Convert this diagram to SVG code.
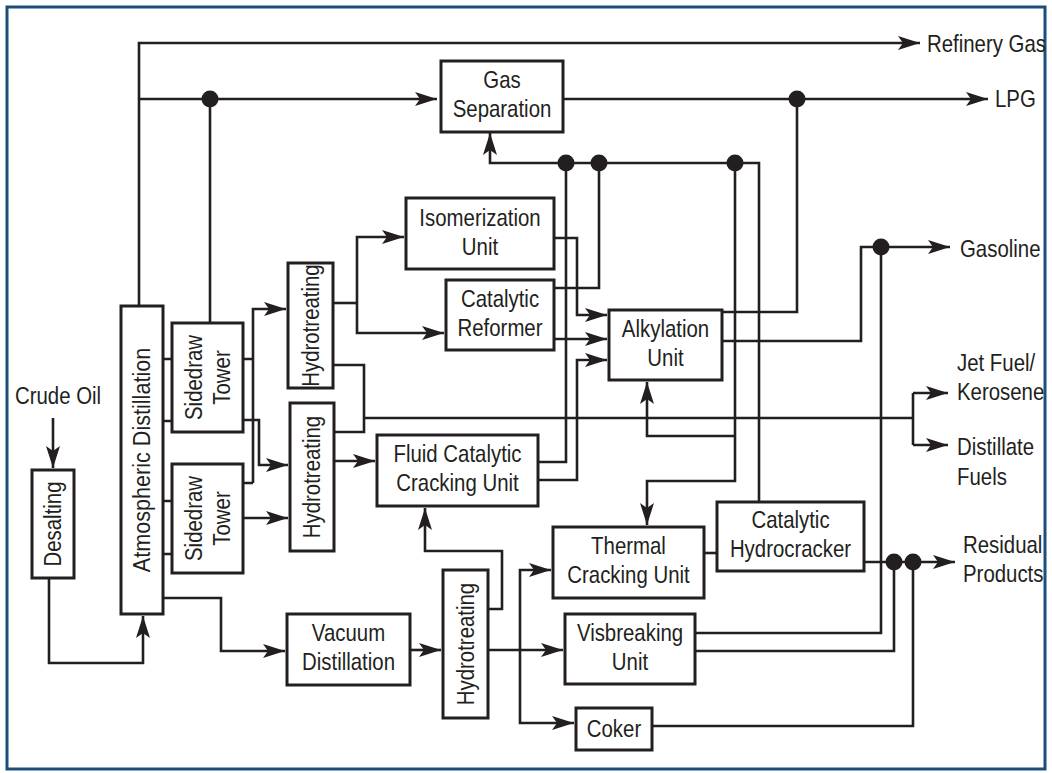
<svg xmlns="http://www.w3.org/2000/svg" width="1052" height="773" viewBox="0 0 1052 773">
<style>
.box{fill:#fff;stroke:#231f20;stroke-width:3}
.ln{fill:none;stroke:#231f20;stroke-width:2.6;stroke-linejoin:miter}
.ar{marker-end:url(#ah)}
.t{font-family:"Liberation Sans",Arial,sans-serif;font-size:24px;fill:#231f20}
.c{text-anchor:middle}
.dot{fill:#231f20}
</style>
<defs>
<marker id="ah" markerUnits="userSpaceOnUse" markerWidth="26" markerHeight="16" viewBox="0 -8 24 16" refX="22" refY="0" orient="auto">
<path d="M0,-7 L22,0 L0,7 L5,0 Z" fill="#231f20"/>
</marker>
</defs>
<rect x="0" y="0" width="1052" height="773" fill="#fff"/>
<rect x="7" y="7" width="1038" height="762" fill="none" stroke="#1b4f7a" stroke-width="3"/>

<g id="connectors">
<path class="ln ar" d="M139,306 V43 H920"/>
<path class="ln ar" d="M139,99 H437"/>
<path class="ln" d="M210,323 V99"/>
<path class="ln ar" d="M563,99 H988"/>
<path class="ln" d="M722,312 H797 V99"/>
<path class="ln ar" d="M759,502 V163 H490 V133"/>
<path class="ln" d="M538,462 H566 V163"/>
<path class="ln" d="M554,288 H599 V163"/>
<path class="ln ar" d="M554,238 H577 V315 H607"/>
<path class="ln ar" d="M554,339 H607"/>
<path class="ln ar" d="M538,480 H577 V360 H607"/>
<path class="ln ar" d="M735,163 V481 H647 V525"/>
<path class="ln ar" d="M735,436 H647 V382"/>
<path class="ln ar" d="M722,341 H861 V247 H950"/>
<path class="ln" d="M695,633 H881 V247"/>
<path class="ln" d="M695,651 H894 V562"/>
<path class="ln" d="M652,726 H913 V562"/>
<path class="ln ar" d="M864,562 H955"/>
<path class="ln" d="M704,553 H717"/>
<path class="ln ar" d="M488,650 H563"/>
<path class="ln ar" d="M520,650 V570 H551"/>
<path class="ln ar" d="M520,650 V723 H574"/>
<path class="ln ar" d="M488,609 H502 V551 H425 V508"/>
<path class="ln ar" d="M410,650 H441"/>
<path class="ln ar" d="M163,598 H221 V651 H285"/>
<path class="ln ar" d="M49,578 V663 H143 V616"/>
<path class="ln ar" d="M53,418 V468"/>
<path class="ln" d="M163,359 H172 M163,421 H172 M163,501 H172 M163,554 H172"/>
<path class="ln" d="M243,359 H253 M243,483 H253"/>
<path class="ln ar" d="M253,483 V309 H286"/>
<path class="ln ar" d="M243,420 H259 V465 H288"/>
<path class="ln ar" d="M243,518 H288"/>
<path class="ln" d="M333,303 H357"/>
<path class="ln ar" d="M357,303 V237 H404"/>
<path class="ln ar" d="M357,303 V333 H444"/>
<path class="ln" d="M333,365 H364 V432 H334 M364,418 H913 M913,393 V445"/>
<path class="ln ar" d="M913,393 H948"/>
<path class="ln ar" d="M913,445 H948"/>
<path class="ln ar" d="M334,461 H375"/>
<circle class="dot" cx="210" cy="99" r="8.5"/>
<circle class="dot" cx="797" cy="99" r="8.5"/>
<circle class="dot" cx="566" cy="163" r="8.5"/>
<circle class="dot" cx="599" cy="163" r="8.5"/>
<circle class="dot" cx="735" cy="163" r="8.5"/>
<circle class="dot" cx="881" cy="247" r="8.5"/>
<circle class="dot" cx="894" cy="562" r="8.5"/>
<circle class="dot" cx="913" cy="562" r="8.5"/>
</g>

<g id="crude-oil"><text class="t c" transform="translate(58,0) scale(0.85,1)" x="0" y="404">Crude Oil</text></g>
<g id="desalting"><rect class="box" x="32" y="470" width="42" height="108"/><text class="t c" transform="translate(53,524) rotate(-90) scale(0.85,1)" x="0" y="8">Desalting</text></g>
<g id="atmospheric-distillation"><rect class="box" x="121" y="306" width="42" height="308"/><text class="t c" transform="translate(142,460) rotate(-90) scale(0.9,1)" x="0" y="8">Atmospheric Distillation</text></g>
<g id="sidedraw-tower-1"><rect class="box" x="172" y="323" width="71" height="109"/><text class="t c" transform="translate(207.5,377.5) rotate(-90) scale(0.85,1)"><tspan x="0" y="-6">Sidedraw</tspan><tspan x="0" y="23">Tower</tspan></text></g>
<g id="sidedraw-tower-2"><rect class="box" x="172" y="464" width="71" height="109"/><text class="t c" transform="translate(207.5,518.5) rotate(-90) scale(0.85,1)"><tspan x="0" y="-6">Sidedraw</tspan><tspan x="0" y="23">Tower</tspan></text></g>
<g id="hydrotreating-1"><rect class="box" x="288" y="263" width="45" height="125"/><text class="t c" transform="translate(310.5,325.5) rotate(-90) scale(0.85,1)" x="0" y="8">Hydrotreating</text></g>
<g id="hydrotreating-2"><rect class="box" x="290" y="403" width="44" height="148"/><text class="t c" transform="translate(312,477) rotate(-90) scale(0.85,1)" x="0" y="8">Hydrotreating</text></g>
<g id="hydrotreating-3"><rect class="box" x="443" y="570" width="45" height="148"/><text class="t c" transform="translate(465.5,644) rotate(-90) scale(0.85,1)" x="0" y="8">Hydrotreating</text></g>
<g id="gas-separation"><rect class="box" x="441" y="61" width="122" height="71"/><text class="t c" transform="translate(502,0) scale(0.85,1)"><tspan x="0" y="88">Gas</tspan><tspan x="0" y="117">Separation</tspan></text></g>
<g id="isomerization-unit"><rect class="box" x="406" y="198" width="148" height="71"/><text class="t c" transform="translate(480,0) scale(0.85,1)"><tspan x="0" y="226">Isomerization</tspan><tspan x="0" y="255">Unit</tspan></text></g>
<g id="catalytic-reformer"><rect class="box" x="446" y="280" width="108" height="70"/><text class="t c" transform="translate(500,0) scale(0.85,1)"><tspan x="0" y="307">Catalytic</tspan><tspan x="0" y="336">Reformer</tspan></text></g>
<g id="alkylation-unit"><rect class="box" x="609" y="310" width="113" height="70"/><text class="t c" transform="translate(665.5,0) scale(0.85,1)"><tspan x="0" y="337">Alkylation</tspan><tspan x="0" y="366">Unit</tspan></text></g>
<g id="fluid-catalytic-cracking-unit"><rect class="box" x="377" y="435" width="161" height="71"/><text class="t c" transform="translate(457.5,0) scale(0.85,1)"><tspan x="0" y="462">Fluid Catalytic</tspan><tspan x="0" y="491">Cracking Unit</tspan></text></g>
<g id="thermal-cracking-unit"><rect class="box" x="553" y="527" width="151" height="71"/><text class="t c" transform="translate(628.5,0) scale(0.85,1)"><tspan x="0" y="554">Thermal</tspan><tspan x="0" y="583">Cracking Unit</tspan></text></g>
<g id="catalytic-hydrocracker"><rect class="box" x="717" y="502" width="147" height="69"/><text class="t c" transform="translate(790.5,0) scale(0.85,1)"><tspan x="0" y="528">Catalytic</tspan><tspan x="0" y="557">Hydrocracker</tspan></text></g>
<g id="visbreaking-unit"><rect class="box" x="565" y="614" width="130" height="70"/><text class="t c" transform="translate(630,0) scale(0.85,1)"><tspan x="0" y="641">Visbreaking</tspan><tspan x="0" y="670">Unit</tspan></text></g>
<g id="coker"><rect class="box" x="576" y="708" width="76" height="42"/><text class="t c" transform="translate(614,0) scale(0.85,1)" x="0" y="737">Coker</text></g>
<g id="vacuum-distillation"><rect class="box" x="287" y="614" width="123" height="71"/><text class="t c" transform="translate(348.5,0) scale(0.85,1)"><tspan x="0" y="641">Vacuum</tspan><tspan x="0" y="670">Distillation</tspan></text></g>

<g id="refinery-gas"><text class="t" transform="translate(927,0) scale(0.85,1)" x="0" y="52">Refinery Gas</text></g>
<g id="lpg"><text class="t" transform="translate(995,0) scale(0.85,1)" x="0" y="107">LPG</text></g>
<g id="gasoline"><text class="t" transform="translate(960,0) scale(0.85,1)" x="0" y="257">Gasoline</text></g>
<g id="jet-fuel"><text class="t" transform="translate(957,0) scale(0.85,1)"><tspan x="0" y="371">Jet Fuel/</tspan><tspan x="0" y="400">Kerosene</tspan></text></g>
<g id="distillate-fuels"><text class="t" transform="translate(957,0) scale(0.85,1)"><tspan x="0" y="455">Distillate</tspan><tspan x="0" y="485">Fuels</tspan></text></g>
<g id="residual-products"><text class="t" transform="translate(963,0) scale(0.85,1)"><tspan x="0" y="553">Residual</tspan><tspan x="0" y="582">Products</tspan></text></g>
</svg>
